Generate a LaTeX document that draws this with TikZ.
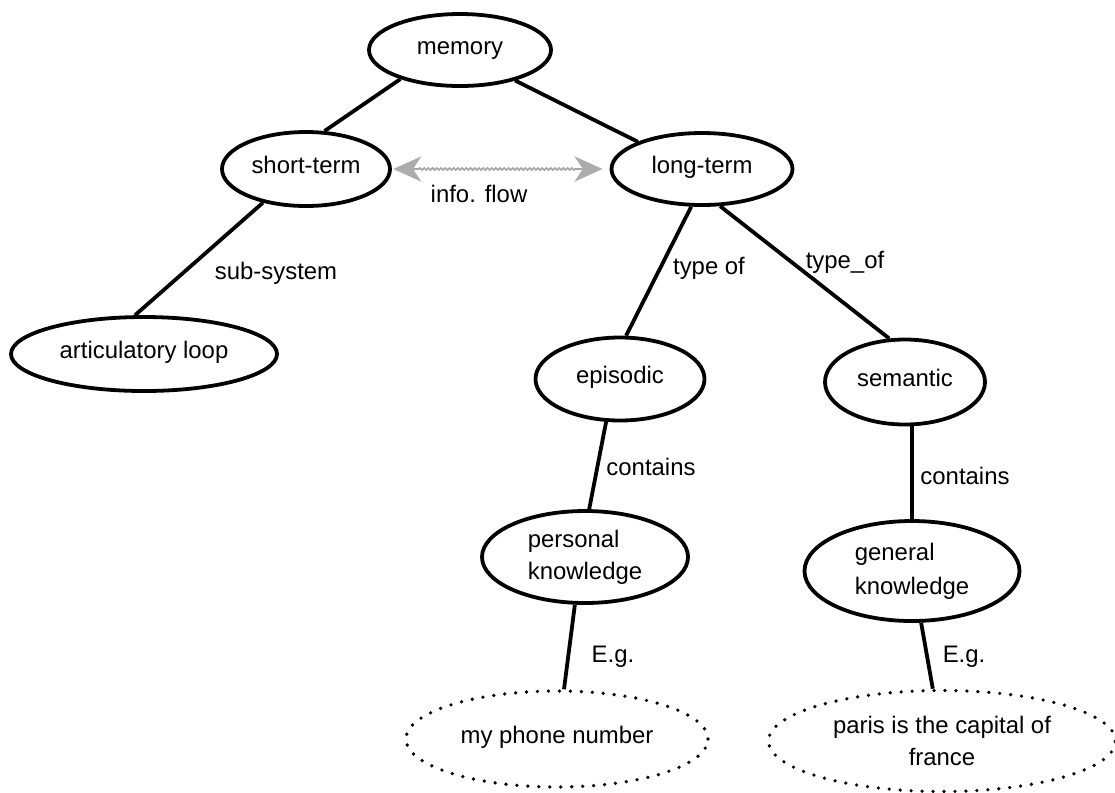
\documentclass[tikz,border=0pt]{standalone}
\usepackage{fontspec}
\setmainfont{Liberation Sans}
\usetikzlibrary{shapes.geometric,decorations.pathmorphing,arrows.meta}
\begin{document}
\begin{tikzpicture}[x=0.025cm,y=-0.025cm,
  every node/.style={font=\fontsize{17}{20}\selectfont, inner sep=0pt},
  concept/.style 2 args={ellipse, draw, line width=2.7pt,
    minimum width=#1*0.025cm, minimum height=#2*0.025cm},
  single/.style={text height=1.45ex, text depth=0.25ex},
  example/.style 2 args={ellipse, draw, line width=2.6pt, line cap=round,
    dash pattern=on 0pt off 7.8pt,
    minimum width=#1*0.025cm, minimum height=#2*0.025cm},
  link/.style={line width=2.7pt},
  lbl/.style={},
  flow/.style={gray!70, line width=1.2pt, decorate,
    >={Stealth[length=20pt, width=18pt, inset=6pt, fill=gray!65, color=gray!65]},
    decoration={snake, amplitude=0.7pt, segment length=3pt,
      pre length=18pt, post length=18pt}}
]
\useasboundingbox (0,0) rectangle (1115,792);

% concepts
\node[concept={182}{72}, single] (memory) at (460,50) {memory};
\node[concept={168}{74}, single] (short) at (306,169) {short-term};
\node[concept={181}{72}, single] (long) at (702,169) {long-term};
\node[concept={266}{74}, single] (loop) at (144,354) {articulatory loop};
\node[concept={169}{83}, single] (episodic) at (620,379) {episodic};
\node[concept={160}{85}, single] (semantic) at (905,382) {semantic};
\node[concept={206}{92}, align=left] (personal) at (585,557) {personal\\[3pt]knowledge};
\node[concept={215}{100}, align=left] (general) at (912,571) {general\\[4pt]knowledge};

% examples
\node[example={302}{96}, single] (phone) at (557,739) {my phone number};
\node[example={347}{101}, align=center] (paris) at (942,741) {paris is the capital of\\[3pt]france};

% links
\draw[link] (memory.206) -- (short.64);
\draw[link] (memory.-29) -- (long.157);
\draw[link] (short.218) -- (loop.103);
\draw[link] (long.254) -- (episodic.82);
\draw[link] (long.-64) -- (semantic.110);
\draw[link] (episodic.252) -- (personal.85);
\draw[link] (general.north |- semantic.south) -- (general.north);
\draw[link] (personal.258) -- (phone.82);
\draw[link] (general.-80) -- (paris.100);

% info flow between the two stores
\coordinate (fl) at ([xshift=1pt]short.east);
\coordinate (fr) at ([xshift=-5pt]long.west);
\draw[flow, <->] (fl) -- (fr);

% labels
\node[lbl] (l1) at (479,194) {info. flow};
\node[lbl] (l2) at (276,273) {sub-system};
\node[lbl] (l3) at (709,268) {type of};
\node[lbl] (l4) at (845,262) {type\_of};
\node[lbl] (l5) at (651,467) {contains};
\node[lbl] (l6) at (965,476) {contains};
\node[lbl] (l7) at (613,657) {E.g.};
\node[lbl] (l8) at (964,657) {E.g.};
\end{tikzpicture}
\end{document}
